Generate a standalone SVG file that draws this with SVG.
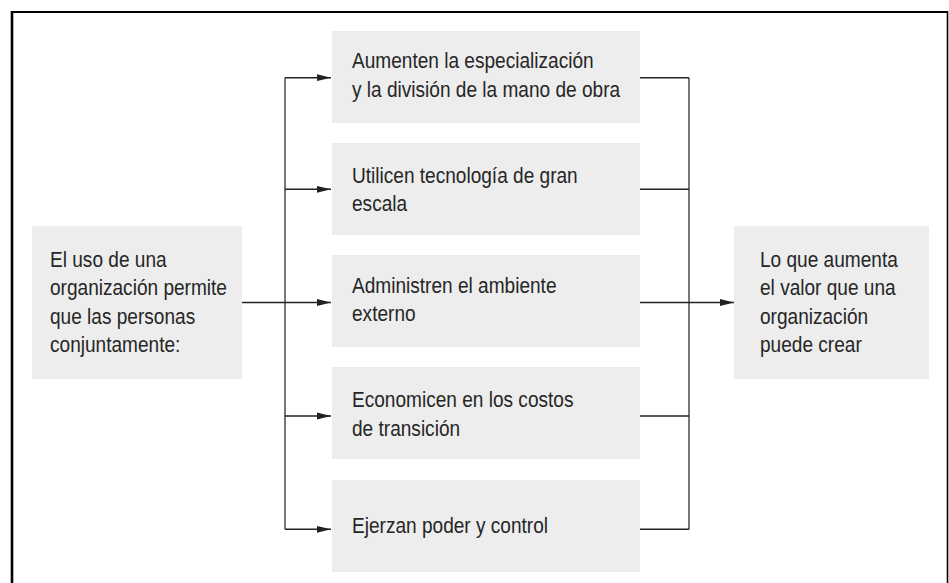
<svg xmlns="http://www.w3.org/2000/svg" width="949" height="583" viewBox="0 0 949 583">
<defs>
<style>
.box{fill:#ededed;}
.t{font-family:"Liberation Sans",Arial,sans-serif;font-size:21.5px;fill:#262626;}
.c{fill:none;stroke:#222;stroke-width:1.4;}
.v{fill:none;stroke:#555;stroke-width:1.6;}
</style>
<marker id="ah" viewBox="0 0 14 8" refX="14" refY="4" markerWidth="14" markerHeight="8" markerUnits="userSpaceOnUse" orient="auto">
<path d="M0,0.6 L14,4 L0,7.4 Z" fill="#222"/>
</marker>
</defs>
<rect width="949" height="583" fill="#fff"/>
<g id="frame" stroke="#000" fill="none">
<line x1="12" y1="583" x2="12" y2="11" stroke-width="2.6"/>
<line x1="11" y1="12" x2="948" y2="12" stroke-width="2.2"/>
<line x1="947.5" y1="11" x2="947.5" y2="583" stroke-width="1.6"/>
</g>
<g id="connectors">
<path class="v" d="M285,77.7 V529.3"/>
<path class="c" d="M285,77.7 H331" marker-end="url(#ah)"/>
<path class="c" d="M285,189.3 H331" marker-end="url(#ah)"/>
<path class="c" d="M242,302.5 H331" marker-end="url(#ah)"/>
<path class="c" d="M285,416 H331" marker-end="url(#ah)"/>
<path class="c" d="M285,529.3 H331" marker-end="url(#ah)"/>
<path class="v" d="M689,77.7 V529.3"/>
<path class="c" d="M640,77.7 H689"/>
<path class="c" d="M640,189.3 H689"/>
<path class="c" d="M640,302.5 H689"/>
<path class="c" d="M640,416 H689"/>
<path class="c" d="M640,529.3 H689"/>
<path class="c" d="M689,302.5 H734" marker-end="url(#ah)"/>
</g>
<g id="source">
<rect class="box" x="32" y="226" width="210" height="153"/>
<text class="t" transform="translate(50 266.5) scale(0.887 1)">El uso de una</text>
<text class="t" transform="translate(50 295) scale(0.887 1)">organización permite</text>
<text class="t" transform="translate(50 323.7) scale(0.887 1)">que las personas</text>
<text class="t" transform="translate(50 352.4) scale(0.887 1)">conjuntamente:</text>
</g>
<g id="n1">
<rect class="box" x="332" y="31" width="308" height="92"/>
<text class="t" transform="translate(352 68.3) scale(0.887 1)">Aumenten la especialización</text>
<text class="t" transform="translate(352 96.7) scale(0.887 1)">y la división de la mano de obra</text>
</g>
<g id="n2">
<rect class="box" x="332" y="143" width="308" height="92"/>
<text class="t" transform="translate(352 182.7) scale(0.887 1)">Utilicen tecnología de gran</text>
<text class="t" transform="translate(352 211.2) scale(0.887 1)">escala</text>
</g>
<g id="n3">
<rect class="box" x="332" y="255" width="308" height="92"/>
<text class="t" transform="translate(352 292.7) scale(0.887 1)">Administren el ambiente</text>
<text class="t" transform="translate(352 320.8) scale(0.887 1)">externo</text>
</g>
<g id="n4">
<rect class="box" x="332" y="367" width="308" height="92"/>
<text class="t" transform="translate(352 407.3) scale(0.887 1)">Economicen en los costos</text>
<text class="t" transform="translate(352 436) scale(0.887 1)">de transición</text>
</g>
<g id="n5">
<rect class="box" x="332" y="480" width="308" height="92"/>
<text class="t" transform="translate(352 532.7) scale(0.887 1)">Ejerzan poder y control</text>
</g>
<g id="result">
<rect class="box" x="734" y="226" width="195" height="153"/>
<text class="t" transform="translate(760 266.5) scale(0.887 1)">Lo que aumenta</text>
<text class="t" transform="translate(760 295) scale(0.887 1)">el valor que una</text>
<text class="t" transform="translate(760 323.7) scale(0.887 1)">organización</text>
<text class="t" transform="translate(760 352.4) scale(0.887 1)">puede crear</text>
</g>
</svg>
